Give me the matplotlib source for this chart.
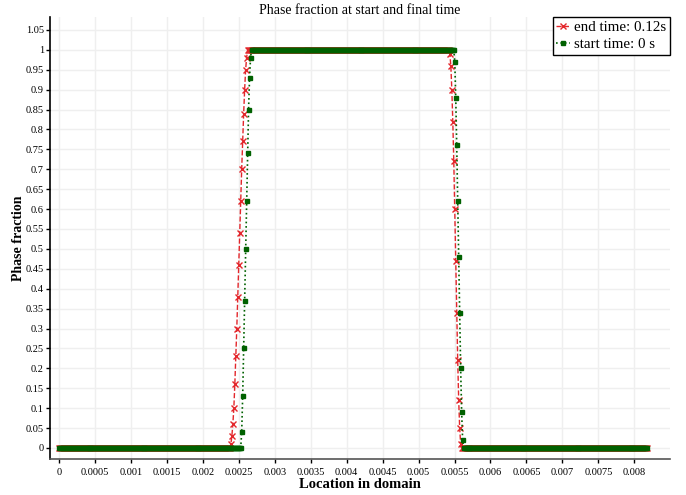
import numpy as np
import matplotlib.pyplot as plt

plt.rcParams['font.family'] = ['Liberation Serif', 'DejaVu Serif']

# mesh locations in the domain
n_cells = 600
x = np.linspace(0, 0.00818, n_cells)

# phase fraction values across the two interfaces
end_rise = [0.01, 0.03, 0.06, 0.1, 0.16, 0.23, 0.3, 0.38, 0.46, 0.54, 0.62,
            0.7, 0.77, 0.84, 0.9, 0.95, 0.98]
end_fall = [0.99, 0.96, 0.9, 0.82, 0.72, 0.6, 0.47, 0.34, 0.22, 0.12, 0.05, 0.01]
start_rise = [0.04, 0.13, 0.25, 0.37, 0.5, 0.62, 0.74, 0.85, 0.93, 0.98]
start_fall = [0.97, 0.88, 0.76, 0.62, 0.48, 0.34, 0.2, 0.09, 0.02]

# index where each interface begins
end_rise_at = 175
end_fall_at = 398
start_rise_at = 186
start_fall_at = 403


def build(rise, rise_at, fall, fall_at):
    top = fall_at - rise_at - len(rise)
    tail = n_cells - fall_at - len(fall)
    return np.concatenate([np.zeros(rise_at), rise, np.ones(top), fall, np.zeros(tail)])


end_frac = build(end_rise, end_rise_at, end_fall, end_fall_at)
start_frac = build(start_rise, start_rise_at, start_fall, start_fall_at)

fig = plt.figure(figsize=(6.86, 4.95), dpi=100)
ax = fig.add_axes([0.073, 0.073, 0.904, 0.893])

ax.plot(x, end_frac, color='#e3262b', linestyle='--', linewidth=1.0,
        marker='x', markersize=4, markeredgewidth=1.0, label='end time: 0.12s')
ax.plot(x, start_frac, color='#006100', linestyle=':', linewidth=1.2,
        marker='s', markersize=2.5, label='start time: 0 s')

ax.set_xlim(-0.000125, 0.0085)
ax.set_ylim(-0.0275, 1.083)
ax.set_xticks(np.arange(0, 0.00801, 0.0005))
ax.set_yticks(np.arange(0, 1.0501, 0.05))
ax.set_xticklabels(['%g' % round(v, 4) for v in ax.get_xticks()])
ax.set_yticklabels(['%g' % round(v, 2) for v in ax.get_yticks()])
ax.tick_params(labelsize=7.5, direction='out', length=3, width=1, colors='black')
ax.tick_params(axis='y', pad=1.5)

ax.grid(True, color='#efefef', linewidth=1)
ax.set_axisbelow(True)
for s in ['top', 'right']:
    ax.spines[s].set_visible(False)
ax.spines['left'].set_linewidth(1.2)
ax.spines['bottom'].set_linewidth(1.2)
ax.spines['bottom'].set_color('#555555')

ax.set_title('Phase fraction at start and final time', fontsize=10, pad=2)
ax.set_xlabel('Location in domain', fontsize=10.5, fontweight='bold', labelpad=1)
ax.set_ylabel('Phase fraction', fontsize=10, fontweight='bold')
ax.yaxis.set_label_coords(-0.04, 0.5)

leg = ax.legend(loc='upper right', fontsize=10.8,
                fancybox=False, framealpha=1, edgecolor='black',
                handlelength=0.9, handletextpad=0.3, borderpad=0.25,
                labelspacing=0.25, borderaxespad=0)
leg.get_frame().set_linewidth(1.0)

plt.savefig('out.png')
